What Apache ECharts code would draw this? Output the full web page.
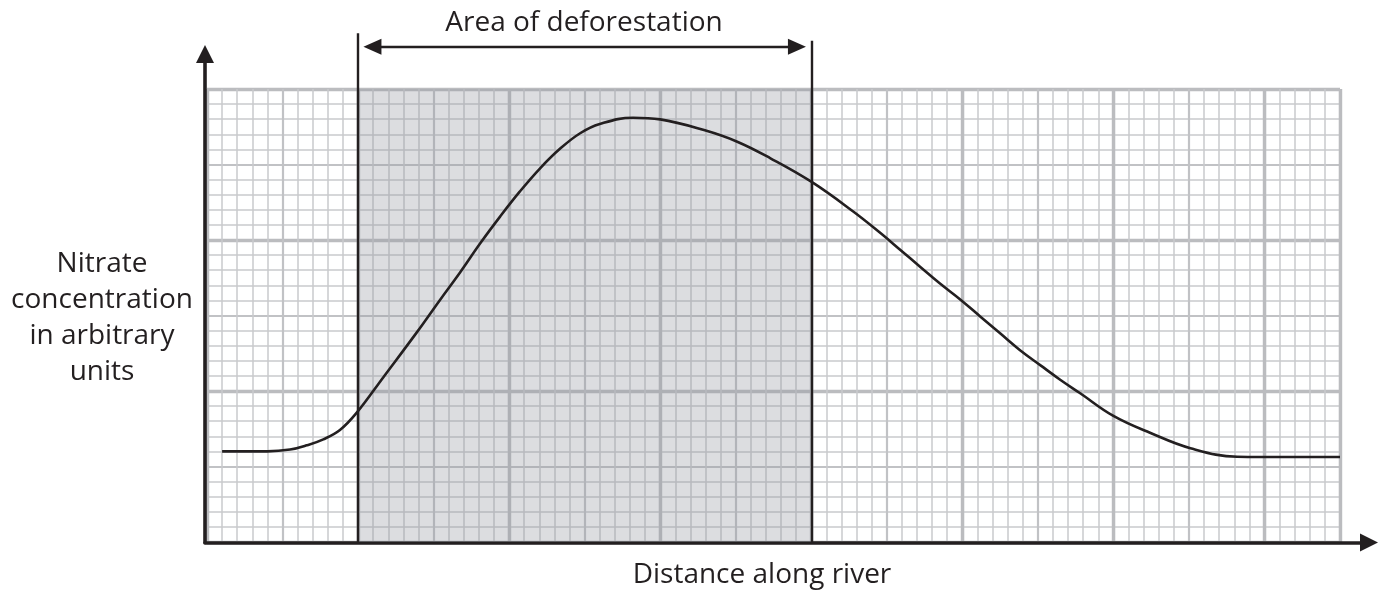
<!DOCTYPE html>
<html>
<head>
<meta charset="utf-8">
<script src="https://cdn.jsdelivr.net/npm/echarts@6/dist/echarts.min.js"></script>
<style>
  html, body { margin: 0; padding: 0; background: #fff; }
  #chart { width: 1378px; height: 591px; }
</style>
</head>
<body>
<div id="chart"></div>
<script>
// distance along river, in small graph-paper squares
var distance = [1, 2.5, 4, 5.5, 6.6, 7.7, 8.8, 9.9, 11.7, 13.9, 15.4, 16.75, 18.1, 19.4, 20.7, 22.05, 23.4, 24.7, 26, 28.2,
  30, 32.9, 35.1, 37.3, 40, 42.8, 44.6, 45.9, 47.2, 48.5, 49.9, 51.2, 52.5, 53.8, 55.2, 56.5, 57.8, 60, 62.5, 65.1,
  68.2, 71.5, 75];
// nitrate concentration (arbitrary units, small squares)
var nitrate = [6.0, 6.0, 6.0, 6.12, 6.4, 6.8, 7.42, 8.55, 10.95, 13.9, 16.0, 17.85, 19.8, 21.55, 23.2, 24.75, 26.07, 27.07, 27.68, 28.1,
  27.99, 27.28, 26.51, 25.41, 23.86, 21.87, 20.44, 19.34, 18.23, 17.13, 16.03, 14.92, 13.82, 12.72, 11.68, 10.73, 9.85, 8.35, 7.2, 6.21,
  5.65, 5.63, 5.63];
// deforested stretch
var deforestStart = 10;
var deforestEnd = 40;

var ink = '#231f20';
var font = '"Open Sans", "DejaVu Sans", sans-serif';

var chart = echarts.init(document.getElementById('chart'));

//  graph paper = several hidden axes on one grid, each giving its own split lines
function paperX(step, width, color) {
  return { type: 'value', gridIndex: 0, min: 0, max: 75, interval: step,
    axisLine: { show: false }, axisTick: { show: false }, axisLabel: { show: false },
    splitLine: { show: true, lineStyle: { color: color, width: width } } };
}
function paperY(step, width, color) {
  return { type: 'value', gridIndex: 0, min: 0, max: 30, interval: step,
    axisLine: { show: false }, axisTick: { show: false }, axisLabel: { show: false },
    splitLine: { show: true, lineStyle: { color: color, width: width } } };
}

var points = distance.map(function (d, i) { return [d, nitrate[i]]; });

var option = {
  animation: false,
  grid: [
    { left: 207, right: 38, top: 89, bottom: 49 },          // paper + curve
    { left: 205, right: 9, top: 54, bottom: 48.5 },          // arrowed axes
    { left: 207, right: 38, top: 28.6, bottom: 49 }          // annotation
  ],
  xAxis: [
    paperX(1, 1.5, '#c9cacd'),
    paperX(5, 2.2, '#c1c2c5'),
    paperX(10, 3.4, '#bbbcbf'),
    { type: 'value', gridIndex: 1, min: 0, max: 1,
      axisLine: { show: true, symbol: ['none', 'triangle'], symbolSize: [18, 18],
        lineStyle: { color: ink, width: 3.6 } },
      axisTick: { show: false }, axisLabel: { show: false }, splitLine: { show: false } },
    { type: 'value', gridIndex: 2, min: 0, max: 75, show: false }
  ],
  yAxis: [
    paperY(1, 1.5, '#c9cacd'),
    paperY(5, 2.2, '#c1c2c5'),
    paperY(10, 3.4, '#bbbcbf'),
    { type: 'value', gridIndex: 1, min: 0, max: 1,
      axisLine: { show: true, symbol: ['none', 'triangle'], symbolSize: [18, 18],
        lineStyle: { color: ink, width: 3.6 } },
      axisTick: { show: false }, axisLabel: { show: false }, splitLine: { show: false } },
    { type: 'value', gridIndex: 2, min: 0, max: 34, show: false }
  ],
  series: [
    {
      type: 'line', xAxisIndex: 0, yAxisIndex: 0,
      data: points, smooth: 0.4, showSymbol: false,
      lineStyle: { color: ink, width: 2.6 },
      z: 5,
      markArea: {
        silent: true,
        itemStyle: { color: 'rgba(150,152,160,0.33)' },
        data: [[{ xAxis: deforestStart }, { xAxis: deforestEnd }]]
      }
    },
    {
      // boundary lines of the deforested stretch and the span arrow
      type: 'line', xAxisIndex: 4, yAxisIndex: 4, data: [], z: 6,
      markLine: {
        silent: true, animation: false,
        label: { show: false },
        lineStyle: { color: ink, width: 2.4, type: 'solid' },
        data: [
          [{ coord: [deforestStart, 0], symbol: 'none' }, { coord: [deforestStart, 33.7], symbol: 'none' }],
          [{ coord: [deforestEnd, 0], symbol: 'none' }, { coord: [deforestEnd, 33.2], symbol: 'none' }],
          [{ coord: [deforestStart + 0.95, 32.8], symbol: 'triangle', symbolSize: [16, 18] },
           { coord: [deforestEnd - 0.95, 32.8], symbol: 'triangle', symbolSize: [16, 18] }]
        ]
      }
    }
  ],
  graphic: [
    { type: 'text', x: 584, y: 23, z: 10,
      style: { text: 'Area of deforestation', font: '28px ' + font, fill: ink,
        align: 'center', verticalAlign: 'middle', textAlign: 'center', textVerticalAlign: 'middle' } },
    { type: 'text', x: 762, y: 575, z: 10,
      style: { text: 'Distance along river', font: '28px ' + font, fill: ink,
        align: 'center', verticalAlign: 'middle', textAlign: 'center', textVerticalAlign: 'middle' } },
    { type: 'text', x: 102, y: 318, z: 10,
      style: { text: 'Nitrate\nconcentration\nin arbitrary\nunits', font: '28px ' + font, fill: ink,
        lineHeight: 36,
        align: 'center', verticalAlign: 'middle', textAlign: 'center', textVerticalAlign: 'middle' } }
  ]
};

chart.setOption(option);
</script>
</body>
</html>
